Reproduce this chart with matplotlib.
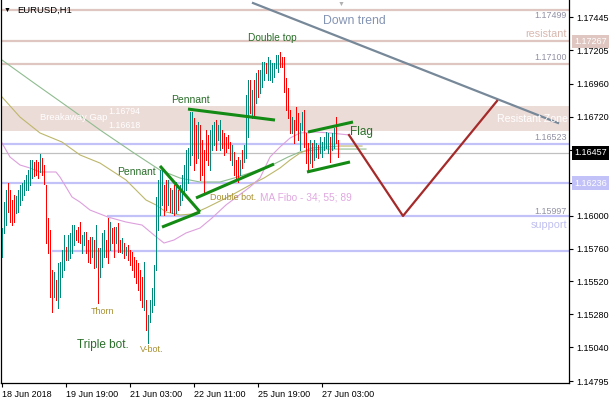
import matplotlib.pyplot as plt

plt.rcParams['font.family'] = ['Liberation Sans', 'DejaVu Sans']

# EURUSD H1 bars (high, low, 1 = up bar / 0 = down bar)
highs = [
    1.15909, 1.16098, 1.16186, 1.16237, 1.16186, 1.16113, 1.16149, 1.16142, 1.16186, 1.16222,
    1.16237, 1.16259, 1.16295, 1.16331, 1.16404, 1.16404, 1.16390, 1.16404, 1.16390, 1.16448,
    1.16419, 1.16368, 1.16222, 1.15982, 1.15895, 1.15603, 1.15589, 1.15531, 1.15654, 1.15662,
    1.15749, 1.15858, 1.15771, 1.15858, 1.15873, 1.15931, 1.15931, 1.15895, 1.15916, 1.15953,
    1.15858, 1.15880, 1.15880, 1.15822, 1.15844, 1.15844, 1.15822, 1.15931, 1.15764, 1.15764,
    1.15873, 1.15895, 1.15822, 1.15982, 1.15953, 1.15909, 1.15916, 1.15916, 1.15946, 1.15822,
    1.15836, 1.15800, 1.15771, 1.15785, 1.15749, 1.15734, 1.15698, 1.15676, 1.15654, 1.15603,
    1.15552, 1.15662, 1.15385, 1.15276, 1.15385, 1.15472, 1.15640, 1.16135, 1.16259, 1.16331,
    1.16346, 1.16222, 1.16259, 1.16259, 1.16200, 1.16186, 1.16222, 1.16244, 1.16186, 1.16222,
    1.16295, 1.16368, 1.16477, 1.16492, 1.16754, 1.16754, 1.16710, 1.16659, 1.16681, 1.16659,
    1.16550, 1.16477, 1.16623, 1.16586, 1.16623, 1.16659, 1.16681, 1.16695, 1.16659, 1.16695,
    1.16623, 1.16601, 1.16572, 1.16586, 1.16535, 1.16514, 1.16463, 1.16404, 1.16426, 1.16404,
    1.16477, 1.16514, 1.16877, 1.16987, 1.16987, 1.16914, 1.16987, 1.17038, 1.17059, 1.17059,
    1.17118, 1.17118, 1.17110, 1.17154, 1.17132, 1.17110, 1.17110, 1.17169, 1.17169, 1.17190,
    1.17154, 1.17154, 1.17001, 1.16928, 1.16768, 1.16717, 1.16695, 1.16790, 1.16746, 1.16674,
    1.16754, 1.16768, 1.16601, 1.16528, 1.16550, 1.16528, 1.16550, 1.16528, 1.16514, 1.16572,
    1.16535, 1.16572, 1.16608, 1.16601, 1.16572, 1.16601, 1.16637, 1.16717, 1.16550,
]
lows = [
    1.15698, 1.15873, 1.15931, 1.16026, 1.15953, 1.15931, 1.15953, 1.16018, 1.16026, 1.16077,
    1.16113, 1.16149, 1.16186, 1.16186, 1.16222, 1.16273, 1.16288, 1.16295, 1.16273, 1.16317,
    1.16295, 1.16229, 1.15800, 1.15727, 1.15407, 1.15298, 1.15407, 1.15385, 1.15327, 1.15407,
    1.15552, 1.15603, 1.15676, 1.15676, 1.15691, 1.15727, 1.15785, 1.15822, 1.15807, 1.15800,
    1.15727, 1.15785, 1.15727, 1.15662, 1.15654, 1.15698, 1.15618, 1.15625, 1.15363, 1.15552,
    1.15625, 1.15698, 1.15698, 1.15654, 1.15749, 1.15800, 1.15698, 1.15800, 1.15734, 1.15734,
    1.15727, 1.15691, 1.15713, 1.15676, 1.15640, 1.15603, 1.15552, 1.15509, 1.15458, 1.15385,
    1.15334, 1.15312, 1.15167, 1.15072, 1.15225, 1.15298, 1.15349, 1.15603, 1.15895, 1.16004,
    1.16077, 1.16004, 1.16040, 1.16077, 1.16026, 1.16018, 1.16004, 1.16018, 1.16040, 1.16077,
    1.16113, 1.16149, 1.16186, 1.16237, 1.16368, 1.16441, 1.16331, 1.16382, 1.16419, 1.16259,
    1.16295, 1.16164, 1.16404, 1.16368, 1.16331, 1.16477, 1.16514, 1.16477, 1.16550, 1.16477,
    1.16492, 1.16441, 1.16463, 1.16492, 1.16404, 1.16368, 1.16295, 1.16259, 1.16244, 1.16295,
    1.16346, 1.16390, 1.16419, 1.16572, 1.16746, 1.16710, 1.16717, 1.16819, 1.16863, 1.16892,
    1.16936, 1.16987, 1.17038, 1.16987, 1.16987, 1.16972, 1.17008, 1.17074, 1.17045, 1.17081,
    1.17081, 1.16899, 1.16768, 1.16710, 1.16601, 1.16601, 1.16528, 1.16623, 1.16550, 1.16477,
    1.16623, 1.16499, 1.16382, 1.16331, 1.16382, 1.16353, 1.16404, 1.16426, 1.16419, 1.16455,
    1.16426, 1.16477, 1.16492, 1.16455, 1.16390, 1.16477, 1.16492, 1.16528, 1.16426,
]
up = [
    1, 1, 1, 0, 0, 0, 0, 1, 1, 1, 1, 1, 1, 1, 1, 1, 0, 0, 0, 1,
    0, 0, 0, 0, 0, 0, 1, 0, 1, 1, 1, 1, 0, 1, 1, 1, 1, 0, 0, 0,
    1, 1, 0, 0, 0, 1, 0, 1, 0, 1, 1, 1, 0, 0, 1, 0, 0, 1, 0, 0,
    1, 0, 1, 0, 0, 0, 0, 0, 0, 0, 0, 1, 0, 1, 1, 1, 1, 1, 1, 1,
    1, 0, 0, 1, 0, 1, 0, 1, 0, 1, 1, 1, 1, 1, 1, 1, 0, 0, 1, 0,
    0, 0, 0, 0, 1, 1, 1, 0, 1, 1, 0, 0, 0, 0, 0, 1, 0, 0, 0, 1,
    0, 1, 1, 1, 0, 1, 0, 1, 0, 1, 1, 1, 0, 1, 1, 1, 1, 1, 1, 0,
    0, 0, 0, 0, 0, 1, 0, 0, 0, 1, 1, 0, 0, 0, 1, 0, 1, 1, 0, 1,
    1, 1, 1, 1, 0, 1, 1, 0, 0,
]

# MA Fibo 34 / 55 / 89, read at a few bars (bar index, price)
ma34_bar = [0, 4, 9, 14, 19, 27, 29, 32, 35, 39, 44, 53, 62, 70, 76, 81, 86, 92, 99, 105,
            112, 124, 129, 134, 139, 144, 149, 157, 164, 174]
ma34_val = [1.16528, 1.16426, 1.16368, 1.16346, 1.16317, 1.16317, 1.16280, 1.16208, 1.16135,
            1.16098, 1.16040, 1.15989, 1.15953, 1.15931, 1.15858, 1.15800, 1.15822, 1.15873,
            1.15909, 1.15982, 1.16077, 1.16208, 1.16273, 1.16426, 1.16499, 1.16564, 1.16601,
            1.16608, 1.16601, 1.16586]
ma55_bar = [0, 9, 19, 30, 39, 49, 62, 72, 77, 82, 89, 95, 102, 114, 124, 131, 139, 144, 149,
            155, 169, 180]
ma55_val = [1.16863, 1.16717, 1.16601, 1.16535, 1.16441, 1.16382, 1.16259, 1.16113, 1.16077,
            1.16026, 1.16004, 1.16011, 1.16055, 1.16142, 1.16222, 1.16273, 1.16346, 1.16404,
            1.16455, 1.16492, 1.16506, 1.16506]
ma89_bar = [0, 16, 33, 49, 66, 79, 89, 99, 109, 116, 133, 143, 149, 159, 172, 182]
ma89_val = [1.17132, 1.16965, 1.16790, 1.16623, 1.16455, 1.16331, 1.16273, 1.16244, 1.16244,
            1.16273, 1.16353, 1.16426, 1.16463, 1.16484, 1.16484, 1.16484]

# horizontal levels
resist_levels = [1.17499, 1.17267, 1.17100]
gap_top, gap_bottom = 1.16794, 1.16618
support_levels = [1.16523, 1.16236]
support_partial = [(52.5, 1.15997), (25, 1.15740)]
last_price = 1.16457

# drawn objects (bar index, price)
down_trend = ([125.5, 278], [1.17547, 1.16674])
pennant1_up = ([79, 99], [1.16361, 1.16026])
pennant1_lo = ([80, 99], [1.15916, 1.16026])
pennant2_up = ([93, 136.5], [1.16775, 1.16695])
pennant2_lo = ([97, 136], [1.16128, 1.16375])
flag_up = ([153, 175.5], [1.16608, 1.16681])
flag_lo = ([152.5, 174], [1.16317, 1.16390])
projection = ([173.5, 200.5, 247.5], [1.16586, 1.15997, 1.16834])

ytick_vals = [1.17445, 1.17205, 1.16960, 1.16720, 1.16480, 1.16240, 1.16000,
              1.15760, 1.15520, 1.15280, 1.15040, 1.14795]
hidden_ticks = [1.16480, 1.16240]  # covered by the price boxes
xtick_bars = [0, 32, 64, 96, 128, 160]
xtick_labels = ['18 Jun 2018', '19 Jun 19:00', '21 Jun 03:00', '22 Jun 11:00',
                '25 Jun 19:00', '27 Jun 03:00']

W, H = 610, 400
fig = plt.figure(figsize=(W / 100, H / 100), dpi=100)
ax = fig.add_axes([1 / W, 17 / H, 568 / W, 383 / H])
ax.set_xlim(-0.5, 283.5)
ax.set_ylim(1.14781, 1.17569)

PINK = '#dfc6c1'
LAV = '#c2c2f8'
TEAL = '#00897b'
GREEN = '#138a13'
TXT_GREEN = '#2a6e2a'
OLIVE_TXT = '#a89030'
GRAY_TXT = '#9090a4'


def pos(px, py):
    # pixel -> axes fraction, for label placement only
    return (px - 1) / 568, (383 - py) / 383


# levels and zones
ax.axhspan(gap_bottom, gap_top, color='#ecdcd8', lw=0, zorder=0)
for lv in resist_levels:
    ax.axhline(lv, color=PINK, lw=1.6, zorder=1)
for lv in support_levels:
    ax.axhline(lv, color=LAV, lw=1.6, zorder=1)
for start, lv in support_partial:
    ax.hlines(lv, start, 283.5, color=LAV, lw=1.6, zorder=1)
ax.axhline(last_price, color='#c0c0c0', lw=0.9, zorder=1)

# moving averages
ax.plot(ma89_bar, ma89_val, color='#8fbc8f', lw=0.8, zorder=2)
ax.plot(ma55_bar, ma55_val, color='#bdb76b', lw=0.8, zorder=2)
ax.plot(ma34_bar, ma34_val, color='#dda0dd', lw=0.8, zorder=2)

# bars
xs = list(range(len(highs)))
xu = [i for i in xs if up[i]]
xd = [i for i in xs if not up[i]]
ax.vlines(xu, [lows[i] for i in xu], [highs[i] for i in xu], colors=TEAL, lw=0.5,
          antialiased=False, zorder=3)
ax.vlines(xd, [lows[i] for i in xd], [highs[i] for i in xd], colors='#ff0000', lw=0.5,
          antialiased=False, zorder=3)

# pattern lines
ax.plot(*down_trend, color='#778899', lw=1.6, zorder=4)
for ln in (pennant1_up, pennant1_lo, pennant2_up, pennant2_lo, flag_up, flag_lo):
    ax.plot(*ln, color=GREEN, lw=2.2, solid_capstyle='butt', zorder=4)
ax.plot(*projection, color='#a52a2a', lw=1.6, zorder=4)


# texts on the chart
def txt(px, py, s, color, fs, ha='left'):
    x, y = pos(px, py)
    ax.text(x, y, s, color=color, fontsize=fs, ha=ha, va='center',
            transform=ax.transAxes, zorder=5)


txt(4, 10, '\u25bc', 'black', 5)
txt(17, 10, 'EURUSD,H1', 'black', 6.8)
txt(338, 4, '\u25bc', '#b0b0b0', 5)
txt(323, 21, 'Down trend', '#8494b4', 8.8)
txt(567, 16, '1.17499', GRAY_TXT, 6.4, ha='right')
txt(567, 34, 'resistant', '#d8b8b0', 7.8, ha='right')
txt(567, 57, '1.17100', GRAY_TXT, 6.4, ha='right')
txt(568, 119, 'Resistant Zone', 'white', 7.6, ha='right')
txt(567, 138, '1.16523', GRAY_TXT, 6.4, ha='right')
txt(567, 211, '1.15997', GRAY_TXT, 6.4, ha='right')
txt(567, 225, 'support', '#c0c0f0', 7.8, ha='right')
txt(40, 118, 'Breakaway Gap', 'white', 6.8)
txt(108, 112, '1.16794', 'white', 6.3)
txt(108, 126, '1.16618', 'white', 6.3)
txt(248, 38, 'Double top', TXT_GREEN, 7.3)
txt(171, 100, 'Pennant', TXT_GREEN, 7.5)
txt(117, 172, 'Pennant', TXT_GREEN, 7.5)
txt(350, 132, 'Flag', TXT_GREEN, 8.5)
txt(210, 197, 'Double bot.', OLIVE_TXT, 6.5)
txt(260, 197, 'MA Fibo - 34; 55; 89', '#e0a8e0', 7.3)
txt(91, 311, 'Thorn', OLIVE_TXT, 6.5)
txt(77, 345, 'Triple bot.', TXT_GREEN, 8.5)
txt(140, 350, 'V-bot.', OLIVE_TXT, 6.5)

# axes look
ax.spines['top'].set_visible(False)
for side in ('left', 'right', 'bottom'):
    ax.spines[side].set_linewidth(0.9)
ax.yaxis.tick_right()
ax.set_yticks(ytick_vals)
ax.set_yticklabels(['' if v in hidden_ticks else f'{v:.5f}' for v in ytick_vals])
ax.set_xticks(xtick_bars)
ax.set_xticklabels(xtick_labels)
ax.tick_params(axis='both', length=3, width=0.8, labelsize=6.5, pad=2)
for lb in ax.get_xticklabels():
    lb.set_ha('left')

# price boxes on the axis
for val, bg in ((1.17267, PINK), (last_price, 'black'), (1.16236, LAV)):
    fy = (17 + (val - 1.14781) / (1.17569 - 1.14781) * 383) / H
    fig.text(574 / W, fy, f'{val:.5f}', color='white', fontsize=6.5, va='center', ha='left',
             bbox=dict(facecolor=bg, edgecolor='none', pad=1.6), zorder=10)

fig.savefig('out.png', dpi=100)
